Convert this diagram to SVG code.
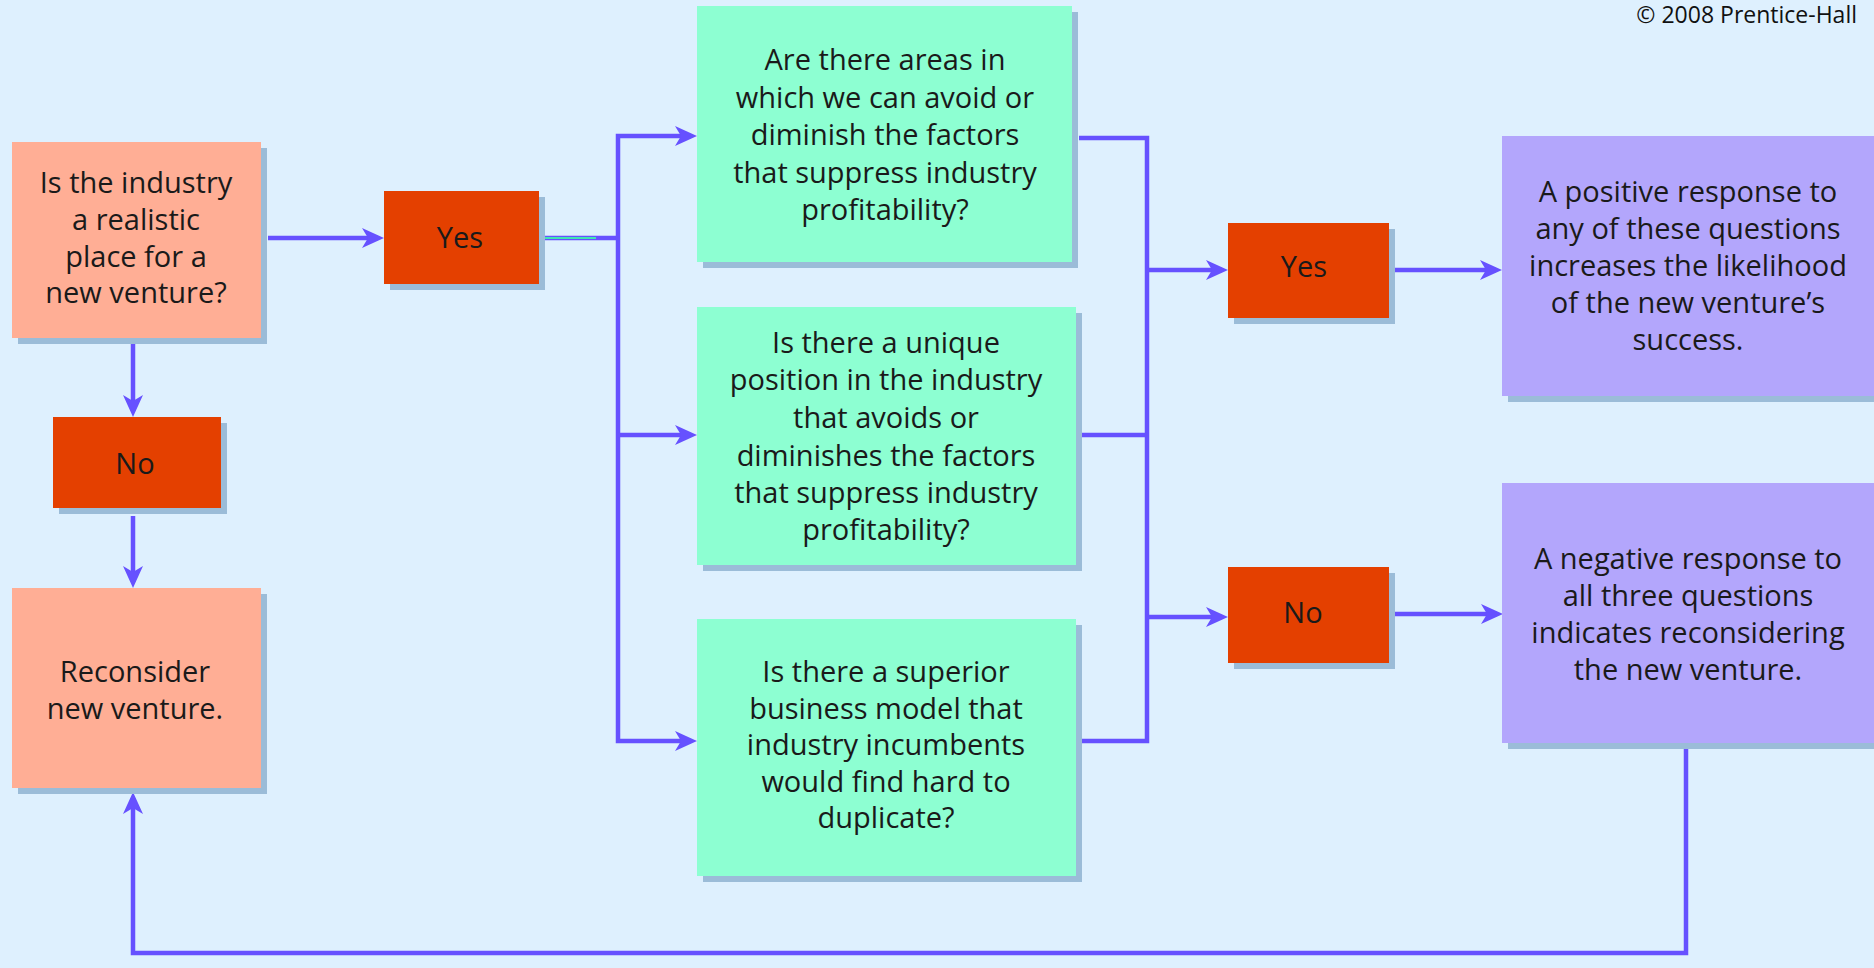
<svg xmlns="http://www.w3.org/2000/svg" width="1874" height="968" viewBox="0 0 1874 968">
<defs>
<style>
.t{font-family:"Open Sans","Liberation Sans",sans-serif;font-size:29px;fill:#1a1a1a;text-anchor:middle}
.sh{fill:#9bbcd8}
.salmon{fill:#ffae95}
.red{fill:#e44000}
.green{fill:#8dffd2}
.purple{fill:#b3a6fc}
.ln{fill:none;stroke:#6651ff;stroke-width:4.5;stroke-linejoin:miter}
.arr{marker-end:url(#ah)}
</style>
<marker id="ah" viewBox="0 0 22 20" refX="16" refY="10" markerWidth="22" markerHeight="20" markerUnits="userSpaceOnUse" orient="auto-start-reverse">
<path d="M0,0 L22,10 L0,20 L6,10 Z" fill="#6651ff"/>
</marker>
</defs>
<rect width="1874" height="968" fill="#def0fe"/>
<text x="1857" y="23" style="font-family:'Open Sans','Liberation Sans',sans-serif;font-size:23px;fill:#111;text-anchor:end">© 2008 Prentice-Hall</text>

<g id="connectors">
<path class="ln arr" d="M268,238 H378"/>
<path class="ln" d="M539,238 H618"/>
<path d="M534,238 H596" stroke="#40e6b2" stroke-width="2"/>
<path class="ln" d="M691,136 H618 V741 H691" marker-start="url(#ah)" marker-end="url(#ah)"/>
<path class="ln arr" d="M618,435 H691"/>
<path class="ln" d="M1079,138 H1147 V741 H1079"/>
<path class="ln" d="M1079,435 H1147"/>
<path class="ln arr" d="M1147,270 H1222"/>
<path class="ln arr" d="M1147,617 H1222"/>
<path class="ln arr" d="M1389,270 H1496"/>
<path class="ln arr" d="M1389,614 H1497"/>
<path class="ln arr" d="M133,344 V411"/>
<path class="ln arr" d="M133,516 V582"/>
<path class="ln arr" d="M1686,749 V953 H133 V798"/>
</g>

<g id="q-industry">
<rect class="sh" x="18" y="148" width="249" height="196"/>
<rect class="salmon" x="12" y="142" width="249" height="196"/>
<text class="t"><tspan x="136" y="193">Is the industry</tspan><tspan x="136" y="230">a realistic</tspan><tspan x="136" y="267">place for a</tspan><tspan x="136" y="303">new venture?</tspan></text>
</g>

<g id="yes-left">
<rect class="sh" x="390" y="197" width="155" height="93"/>
<rect class="red" x="384" y="191" width="155" height="93"/>
<text class="t" x="460" y="248">Yes</text>
</g>

<g id="no-left">
<rect class="sh" x="59" y="423" width="168" height="91"/>
<rect class="red" x="53" y="417" width="168" height="91"/>
<text class="t" x="135" y="474">No</text>
</g>

<g id="reconsider">
<rect class="sh" x="18" y="594" width="249" height="200"/>
<rect class="salmon" x="12" y="588" width="249" height="200"/>
<text class="t"><tspan x="135" y="682">Reconsider</tspan><tspan x="135" y="719">new venture.</tspan></text>
</g>

<g id="q-areas">
<rect class="sh" x="703" y="12" width="375" height="256"/>
<rect class="green" x="697" y="6" width="375" height="256"/>
<text class="t"><tspan x="885" y="70">Are there areas in</tspan><tspan x="885" y="107.5">which we can avoid or</tspan><tspan x="885" y="145">diminish the factors</tspan><tspan x="885" y="182.5">that suppress industry</tspan><tspan x="885" y="220">profitability?</tspan></text>
</g>

<g id="q-position">
<rect class="sh" x="703" y="313" width="379" height="258"/>
<rect class="green" x="697" y="307" width="379" height="258"/>
<text class="t"><tspan x="886" y="353">Is there a unique</tspan><tspan x="886" y="390">position in the industry</tspan><tspan x="886" y="428">that avoids or</tspan><tspan x="886" y="466">diminishes the factors</tspan><tspan x="886" y="503">that suppress industry</tspan><tspan x="886" y="540">profitability?</tspan></text>
</g>

<g id="q-model">
<rect class="sh" x="703" y="625" width="379" height="257"/>
<rect class="green" x="697" y="619" width="379" height="257"/>
<text class="t"><tspan x="886" y="682">Is there a superior</tspan><tspan x="886" y="718.5">business model that</tspan><tspan x="886" y="755">industry incumbents</tspan><tspan x="886" y="791.5">would find hard to</tspan><tspan x="886" y="828">duplicate?</tspan></text>
</g>

<g id="yes-right">
<rect class="sh" x="1234" y="229" width="161" height="95"/>
<rect class="red" x="1228" y="223" width="161" height="95"/>
<text class="t" x="1304" y="277">Yes</text>
</g>

<g id="no-right">
<rect class="sh" x="1234" y="573" width="161" height="96"/>
<rect class="red" x="1228" y="567" width="161" height="96"/>
<text class="t" x="1303" y="623">No</text>
</g>

<g id="positive">
<rect class="sh" x="1508" y="142" width="372" height="260"/>
<rect class="purple" x="1502" y="136" width="372" height="260"/>
<text class="t"><tspan x="1688" y="202">A positive response to</tspan><tspan x="1688" y="239">any of these questions</tspan><tspan x="1688" y="276">increases the likelihood</tspan><tspan x="1688" y="313">of the new venture’s</tspan><tspan x="1688" y="350">success.</tspan></text>
</g>

<g id="negative">
<rect class="sh" x="1508" y="489" width="372" height="260"/>
<rect class="purple" x="1502" y="483" width="372" height="260"/>
<text class="t"><tspan x="1688" y="569">A negative response to</tspan><tspan x="1688" y="606">all three questions</tspan><tspan x="1688" y="643">indicates reconsidering</tspan><tspan x="1688" y="680">the new venture.</tspan></text>
</g>
</svg>
